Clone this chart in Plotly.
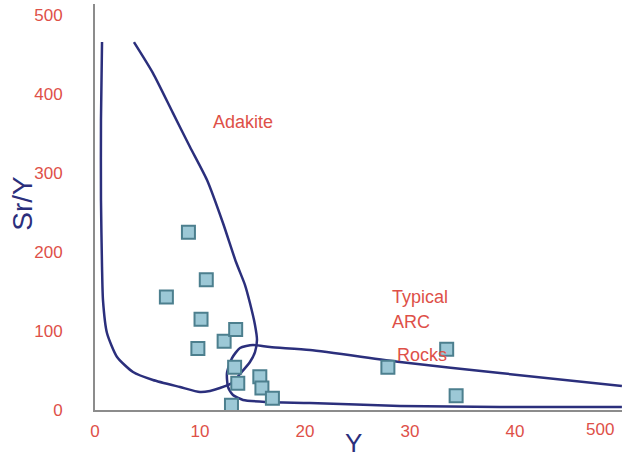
import plotly.graph_objects as go

# Sample points
sample_y = [8.9, 10.6, 6.8, 10.1, 9.8, 12.3, 13.4, 13.3, 13.6, 15.7, 15.9, 16.9, 13.0, 27.9, 33.5, 34.4]
sample_sry = [225, 165, 143, 115, 78, 87, 102, 54, 34, 42, 28, 15, 6, 54, 77, 18]

# Adakite field boundary
adakite_y = [3.71, 5.52, 7.43, 9.05, 10.67, 12.19, 13.43, 14.29, 14.76, 15.24, 15.43, 15.24, 14.76,
             13.81, 13.05, 11.90, 10.95, 10.0, 8.10, 5.52, 3.62, 2.10, 1.14, 0.76, 0.67, 0.57, 0.57, 0.67]
adakite_sry = [465.8, 426.6, 375.9, 332.9, 291.1, 236.7, 187.3, 158.2, 135.4, 107.6, 88.6, 73.4, 60.8,
               45.6, 34.2, 27.8, 24.1, 22.8, 29.1, 38.0, 48.1, 67.1, 97.5, 139.2, 181.0, 265.8, 367.1, 465.8]

# Typical ARC field boundary
arc_y = [50.19, 38.57, 29.05, 20.48, 16.67, 15.05, 13.81, 13.05, 12.57, 12.67, 13.14, 14.10,
         16.38, 20.48, 29.05, 38.57, 50.19]
arc_sry = [30.4, 46.8, 60.8, 75.9, 79.7, 82.3, 78.5, 65.8, 46.8, 29.1, 19.0, 12.7,
           10.1, 8.9, 5.1, 3.8, 3.8]

x_ticks = [0, 10, 20, 30, 40]
x_ticktext = ["0", "10", "20", "30", "40"]
y_ticks = [0, 100, 200, 300, 400, 500]
y_ticktext = ["0", "100", "200", "300", "400", "500"]

navy = "#2b2f7c"
red = "#de5048"
font = "Liberation Sans, Arial, sans-serif"

fig = go.Figure()
fig.add_trace(go.Scatter(x=adakite_y, y=adakite_sry, mode="lines",
                         line=dict(color=navy, width=2.5, shape="spline", smoothing=0.6),
                         hoverinfo="skip", showlegend=False))
fig.add_trace(go.Scatter(x=arc_y, y=arc_sry, mode="lines",
                         line=dict(color=navy, width=2.5, shape="spline", smoothing=0.6),
                         hoverinfo="skip", showlegend=False))
fig.add_trace(go.Scatter(x=sample_y, y=sample_sry, mode="markers",
                         marker=dict(symbol="square", size=13, color="#9cc8d6",
                                     line=dict(color="#4c7f8e", width=2)),
                         showlegend=False))

annotations = [
    dict(x=14.1, y=364, xref="x", yref="y", text="Adakite", showarrow=False,
         font=dict(family=font, size=18, color=red)),
    dict(x=28.1, y=143, xref="x", yref="y", text="Typical", showarrow=False, xanchor="left",
         font=dict(family=font, size=18, color=red)),
    dict(x=28.1, y=111, xref="x", yref="y", text="ARC", showarrow=False, xanchor="left",
         font=dict(family=font, size=18, color=red)),
    dict(x=28.6, y=70, xref="x", yref="y", text="Rocks", showarrow=False, xanchor="left",
         font=dict(family=font, size=18, color=red)),
    dict(x=1, y=0, xref="paper", yref="paper", text="500", showarrow=False,
         xanchor="right", yanchor="middle", xshift=-6, yshift=-19,
         font=dict(family=font, size=17, color=red)),
    dict(x=0.49, y=0, xref="paper", yref="paper", text="Y", showarrow=False,
         xanchor="center", yanchor="middle", yshift=-33,
         font=dict(family=font, size=26, color=navy)),
    dict(x=-0.137, y=0.51, xref="paper", yref="paper", text="Sr/Y", showarrow=False,
         textangle=-90, xanchor="center", yanchor="middle",
         font=dict(family=font, size=28, color=navy)),
]

fig.update_layout(
    width=622, height=457,
    margin=dict(l=95, r=0, t=4, b=47),
    paper_bgcolor="white", plot_bgcolor="white",
    annotations=annotations,
    xaxis=dict(range=[0, 50.2], tickvals=x_ticks, ticktext=x_ticktext,
               showgrid=False, zeroline=False, showline=True, linecolor="#8c8c8c", linewidth=2,
               ticks="", ticklabelstandoff=5,
               tickfont=dict(family=font, size=17, color=red)),
    yaxis=dict(range=[0, 514], tickvals=y_ticks, ticktext=y_ticktext,
               showgrid=False, zeroline=False, showline=True, linecolor="#8c8c8c", linewidth=2,
               ticks="", ticklabelstandoff=27,
               tickfont=dict(family=font, size=17, color=red)),
)

fig.write_html("out.html",
               config={"displayModeBar": False},
               post_script="document.body.style.margin='0';document.body.style.overflow='hidden';")
